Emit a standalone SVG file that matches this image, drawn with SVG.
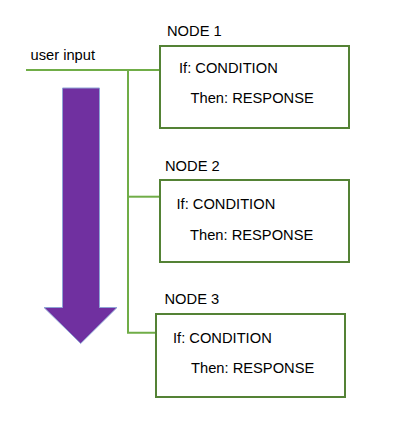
<svg xmlns="http://www.w3.org/2000/svg" width="408" height="434" viewBox="0 0 408 434">
<style>
text{font-family:"Liberation Sans",Arial,sans-serif;font-size:14.7px;fill:#000}
.box{fill:#fff;stroke:#548235;stroke-width:2}
.conn{fill:none;stroke:#70AD47;stroke-width:2}
</style>
<rect width="408" height="434" fill="#fff"/>
<g id="arrow">
<path d="M62.5,88 H99.5 V307.5 H117 L80.7,343.5 L44,307.5 H62.5 Z" fill="#7030A0" stroke="#8FA5D6" stroke-width="1"/>
</g>
<g id="connectors">
<text x="30.5" y="59.5">user input</text>
<path class="conn" d="M26,70 H160"/>
<path class="conn" d="M128,70 V332.7 H156"/>
<path class="conn" d="M128,196.7 H160"/>
</g>
<g id="node1">
<text x="167" y="36">NODE 1</text>
<rect class="box" x="160" y="46" width="189" height="82"/>
<text x="179" y="73">If: CONDITION</text>
<text x="190.5" y="103">Then: RESPONSE</text>
</g>
<g id="node2">
<text x="165" y="171">NODE 2</text>
<rect class="box" x="160" y="180" width="189" height="82"/>
<text x="176.5" y="209">If: CONDITION</text>
<text x="190" y="240">Then: RESPONSE</text>
</g>
<g id="node3">
<text x="164.5" y="303.5">NODE 3</text>
<rect class="box" x="156" y="314" width="189" height="83"/>
<text x="173" y="343">If: CONDITION</text>
<text x="191" y="373">Then: RESPONSE</text>
</g>
</svg>
